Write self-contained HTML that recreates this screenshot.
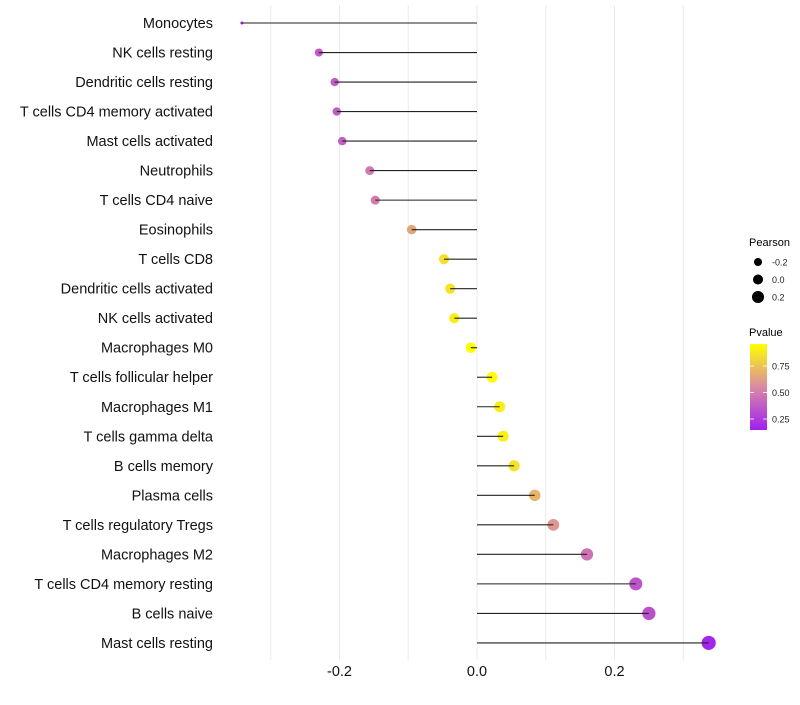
<!DOCTYPE html>
<html><head><meta charset="utf-8"><style>
body{margin:0;background:#fff;font-family:"Liberation Sans",sans-serif;}
svg text{font-family:"Liberation Sans",sans-serif;}
</style></head><body>
<svg id="chart" width="800" height="700">
<defs><linearGradient id="pg" x1="0" y1="1" x2="0" y2="0">
<stop offset="0" stop-color="#a020f0"/><stop offset="0.5" stop-color="#d98aa4"/><stop offset="1" stop-color="#ffff00"/>
</linearGradient></defs>
<g id="grid"></g>
<g id="marks"></g>
<g id="stems"></g>
<g id="ylab"></g>
<g id="xlab"></g>
<g id="legP">
<text x="749" y="246" font-size="11" fill="#000">Pearson</text>
</g>
<g>
<text x="749" y="336" font-size="11" fill="#000">Pvalue</text>
<rect x="750" y="344" width="17" height="86" fill="url(#pg)"/>
<g id="cbt"></g>
</g>
</svg>
<script>
const cats=["Monocytes","NK cells resting","Dendritic cells resting","T cells CD4 memory activated","Mast cells activated","Neutrophils","T cells CD4 naive","Eosinophils","T cells CD8","Dendritic cells activated","NK cells activated","Macrophages M0","T cells follicular helper","Macrophages M1","T cells gamma delta","B cells memory","Plasma cells","T cells regulatory  Tregs ","Macrophages M2","T cells CD4 memory resting","B cells naive","Mast cells resting"];
const pearson=[-0.342,-0.230,-0.207,-0.204,-0.196,-0.156,-0.148,-0.095,-0.048,-0.039,-0.033,-0.009,0.022,0.033,0.038,0.054,0.084,0.111,0.160,0.231,0.250,0.337];
const pvalue=[0.15,0.37,0.38,0.38,0.39,0.49,0.5,0.65,0.85,0.86,0.9,0.97,0.95,0.9,0.9,0.85,0.7,0.6,0.46,0.35,0.33,0.17];
const xTicks=[-0.2,0.0,0.2];
const xTickLabels=["-0.2","0.0","0.2"];
const xGrid=[-0.3,-0.2,-0.1,0,0.1,0.2,0.3];
const pTicks=[0.25,0.5,0.75];
const pTickLabels=["0.25","0.50","0.75"];
const sizeVals=[-0.2,0.0,0.2];
const sizeLabels=["-0.2","0.0","0.2"];
const NS="http://www.w3.org/2000/svg";
const X=v=>477+v*687.5;
const Y=i=>23+i*29.52;
const R=v=>Math.max(1.5,5.3+5.3*v-21.6*Math.max(0,-0.25-v));
const pY=p=>419-(p-0.25)/0.25*26.5;
function mix(a,b,t){return a.map((x,i)=>Math.round(x+(b[i]-x)*t));}
function col(p){const t=Math.max(0,Math.min(1,(430-pY(p))/86));const lo=[160,32,240],mid=[217,138,164],hi=[255,255,0];
const c=t<0.5?mix(lo,mid,t*2):mix(mid,hi,(t-0.5)*2);return `rgb(${c})`;}
function mk(tag,attrs,parent,txt){const e=document.createElementNS(NS,tag);for(const k in attrs)e.setAttribute(k,attrs[k]);if(txt!==undefined)e.textContent=txt;document.getElementById(parent).appendChild(e);return e;}
xGrid.forEach(g=>{const e=mk('line',{x1:X(g),x2:X(g),y1:5,y2:660,stroke:'#ebebeb','stroke-width':1},'grid');

});
cats.forEach((c,i)=>{
const d=mk('circle',{cx:X(pearson[i]),cy:Y(i),r:R(pearson[i]),fill:col(pvalue[i])},'marks');


const l=mk('line',{x1:X(0),x2:X(pearson[i]),y1:Y(i),y2:Y(i),stroke:'#222','stroke-width':1.1},'stems');


const t=mk('text',{x:213,y:Y(i)+5,'text-anchor':'end','font-size':14.5,fill:'#111'},'ylab',c);


});
xTicks.forEach((v,i)=>{const t=mk('text',{x:X(v),y:676,'text-anchor':'middle','font-size':14.5,fill:'#111'},'xlab',xTickLabels[i]);

});
sizeVals.forEach((v,i)=>{const cy=262+i*17.5;
const c=mk('circle',{cx:758,cy:cy,r:R(v)*0.95,fill:'#000'},'legP');


const t=mk('text',{x:772,y:cy+3.5,'font-size':9,fill:'#222'},'legP',sizeLabels[i]);

});
pTicks.forEach((p,i)=>{const y=pY(p);
const a=mk('line',{x1:750,x2:754,y1:y,y2:y,stroke:'#fff','stroke-width':0.8},'cbt');


const b=mk('line',{x1:763,x2:767,y1:y,y2:y,stroke:'#fff','stroke-width':0.8},'cbt');


const t=mk('text',{x:772,y:y+3.5,'font-size':9,fill:'#222'},'cbt',pTickLabels[i]);

});
</script>
</body></html>
